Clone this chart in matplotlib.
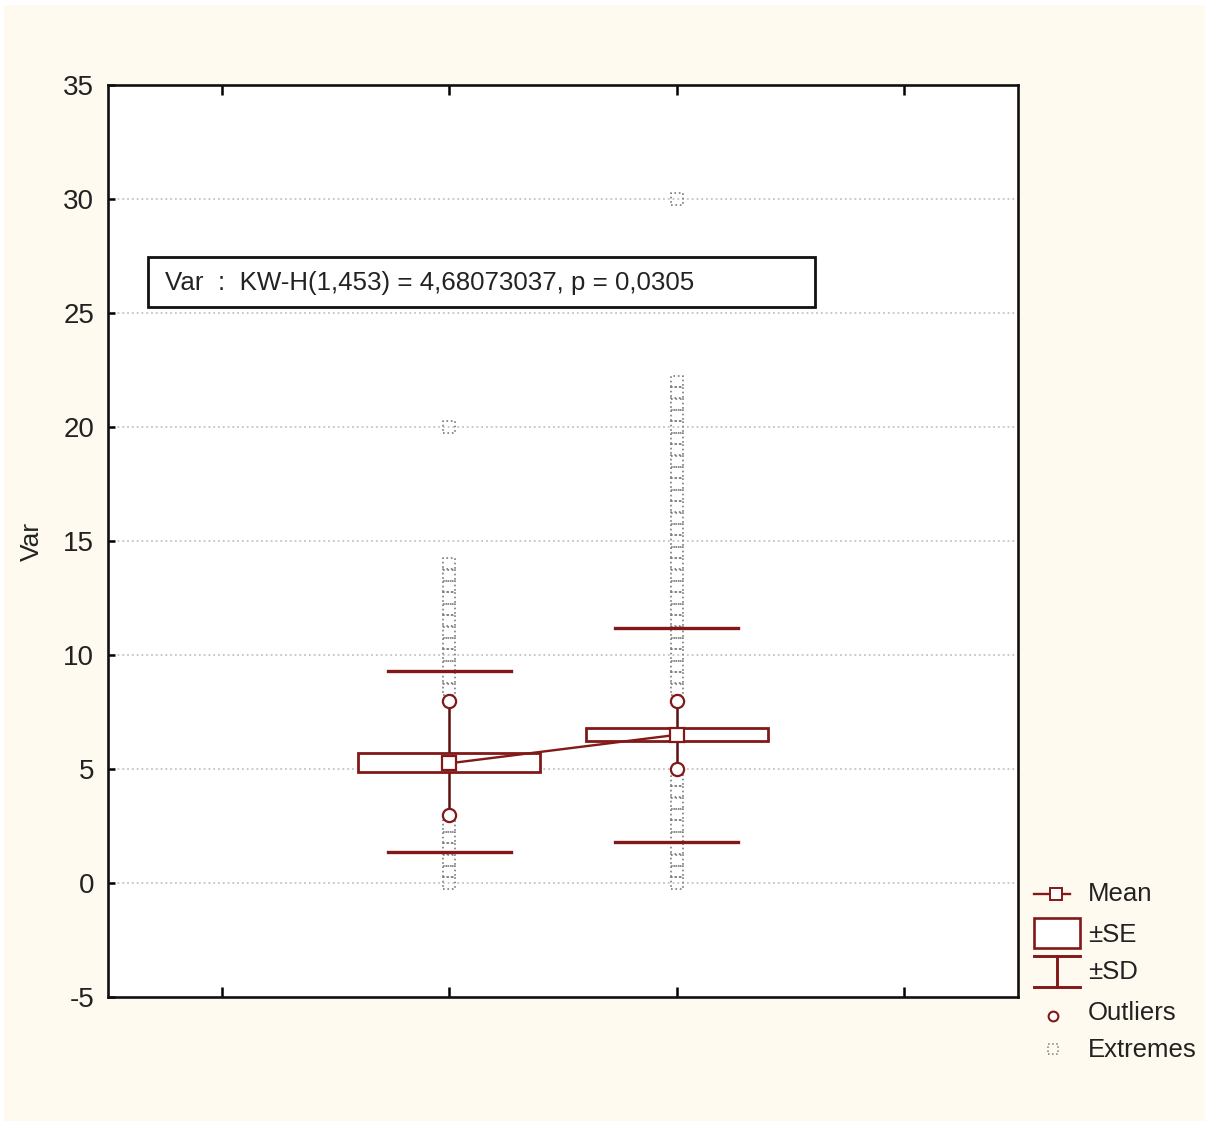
import matplotlib.pyplot as plt
from matplotlib.patches import Rectangle

plt.rcParams['font.family'] = ['Liberation Sans', 'DejaVu Sans']
plt.rcParams['axes.unicode_minus'] = False

# group positions and summary stats
positions = [2, 3]
means = [5.25, 6.5]
se_low = [4.85, 6.22]
se_high = [5.7, 6.8]
sd_low = [1.35, 1.8]
sd_high = [9.3, 11.2]
outliers = [[3, 8], [5, 8]]
extremes = [
    [0, 0.5, 1, 1.5, 2, 2.5,
     8.5, 9, 9.5, 10, 10.5, 11, 11.5, 12, 12.5, 13, 13.5, 14, 20],
    [0, 0.5, 1, 1.5, 2, 2.5, 3, 3.5, 4, 4.5,
     8.5, 9, 9.5, 10, 10.5, 11, 11.5, 12, 12.5, 13, 13.5, 14, 14.5, 15,
     15.5, 16, 16.5, 17, 17.5, 18, 18.5, 19, 19.5, 20, 20.5, 21, 21.5, 22, 30],
]
y_ticks = [-5, 0, 5, 10, 15, 20, 25, 30, 35]
stat_text = 'Var  :  KW-H(1,453) = 4,68073037, p = 0,0305'

red = '#821818'
grey = '#7a7a7a'
cream = '#fffaef'
ink = '#222222'

fig = plt.figure(figsize=(12.11, 11.22), dpi=100)
fig.patch.set_facecolor('white')

# background panel + legend drawn in pixel coords
bg = fig.add_axes([0, 0, 1, 1])
bg.set_xlim(0, 1211)
bg.set_ylim(1122, 0)
bg.axis('off')
bg.add_patch(Rectangle((4, 5), 1201, 1116, facecolor=cream, edgecolor='none'))

ax = fig.add_axes([0.0892, 0.1114, 0.7514, 0.8128])
ax.set_facecolor('white')
ax.set_xlim(0.5, 4.5)
ax.set_ylim(-5, 35)
ax.set_yticks(y_ticks)
ax.set_xticks([1, 2, 3, 4])
ax.set_xticklabels([])
ax.tick_params(axis='both', direction='in', length=7, width=1.8,
               labelsize=20, labelcolor=ink, top=True, pad=10)
ax.tick_params(axis='y', right=False, length=5)
for s in ax.spines.values():
    s.set_linewidth(1.9)
    s.set_color('#111111')
ax.set_ylabel('Var', fontsize=19, labelpad=14, color=ink)

for y in y_ticks[1:-1]:
    ax.axhline(y, color='#c4c4c4', lw=1.3, ls=':', zorder=0)

for i, x in enumerate(positions):
    ax.scatter([x] * len(extremes[i]), extremes[i], marker='s', s=70,
               facecolors='none', edgecolors=grey, linestyles=':',
               linewidths=1.2, zorder=1)
    ax.plot([x, x], [min(outliers[i]), max(outliers[i])], color='#5a1010',
            lw=1.8, zorder=2)
    ax.plot([x - 0.27, x + 0.27], [sd_high[i]] * 2, color=red, lw=2.4,
            zorder=2)
    ax.plot([x - 0.27, x + 0.27], [sd_low[i]] * 2, color=red, lw=2.4,
            zorder=2)
    ax.add_patch(Rectangle((x - 0.4, se_low[i]), 0.8, se_high[i] - se_low[i],
                           facecolor='white', edgecolor=red, lw=2.0,
                           zorder=3))
    ax.plot([x] * len(outliers[i]), outliers[i], 'o', ms=9.5, mfc='white',
            mec=red, mew=1.6, ls='none', zorder=4)

ax.plot(positions, means, color=red, lw=1.7, zorder=4)
ax.plot(positions, means, 's', ms=9.5, mfc='white', mec=red, mew=1.6,
        zorder=5)

ax.add_patch(Rectangle((0.044, 0.7566), 0.733, 0.0548, transform=ax.transAxes,
                       facecolor='white', edgecolor='#111111', lw=2.0,
                       zorder=6))
ax.text(0.0626, 0.783, stat_text, transform=ax.transAxes, fontsize=18.6,
        va='center', ha='left', color=ink, zorder=7)

# legend
bg.plot([1034, 1070], [894, 894], color=red, lw=1.7)
bg.plot([1056], [894], 's', ms=8, mfc='white', mec=red, mew=1.4)
bg.add_patch(Rectangle((1034, 918), 46, 30, facecolor='white',
                       edgecolor=red, lw=1.9))
bg.plot([1034, 1080], [956, 956], color=red, lw=2.1)
bg.plot([1034, 1080], [987, 987], color=red, lw=2.1)
bg.plot([1057, 1057], [956, 987], color=red, lw=2.1)
bg.plot([1053], [1016], 'o', ms=7, mfc='white', mec=red, mew=1.5)
bg.scatter([1053], [1049], marker='s', s=55, facecolors='none',
           edgecolors=grey, linestyles=':', linewidths=1.1)
labels = ['Mean', '\u00b1SE', '\u00b1SD', 'Outliers', 'Extremes']
label_y = [894, 935, 972, 1013, 1050]
for lab, y in zip(labels, label_y):
    bg.text(1088, y, lab, fontsize=18.5, va='center', ha='left', color=ink)

fig.savefig('out.png', dpi=100, facecolor=fig.get_facecolor())
